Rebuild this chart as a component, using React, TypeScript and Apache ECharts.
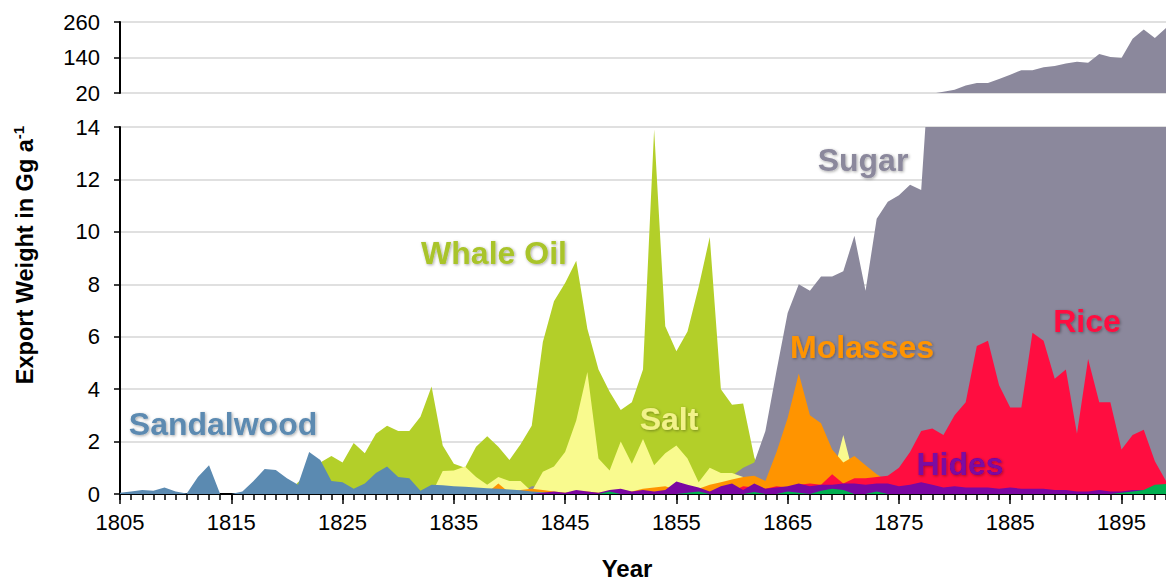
import React, { useEffect, useRef } from "react";
import * as echarts from "echarts";

const FIRST_YEAR = 1805;
const LAST_YEAR = 1899;
const years: string[] = [];
for (let y = FIRST_YEAR; y <= LAST_YEAR; y++) years.push(String(y));

// Top panel axis is broken: it shows 20..260
const TOP_AXIS_BASE = 20;
const topTickLabels = ["20", "140", "260"];

// Values in Gg per year, each list starts at the given year
const sandalwoodStart = 1805;
const sandalwood = [
  0.05, 0.1, 0.15, 0.12, 0.25, 0.1, 0.02, 0.65, 1.1, 0,
  0, 0.1, 0.5, 0.95, 0.92, 0.6, 0.35, 1.6, 1.3, 0.5,
  0.45, 0.2, 0.4, 0.8, 1.05, 0.65, 0.6, 0.12, 0.35, 0.33,
  0.3, 0.28, 0.25, 0.22, 0.2, 0.17, 0.14, 0.1, 0.07, 0.04,
  0.02,
];

const whaleOilStart = 1820;
const whaleOil = [
  0, 0.45, 0.8, 1.2, 1.45, 1.2, 1.95, 1.55, 2.3, 2.6,
  2.4, 2.4, 2.95, 4.1, 1.85, 1.15, 1.0, 1.8, 2.2, 1.8,
  1.3, 1.9, 2.6, 5.8, 7.35, 8.05, 8.9, 6.3, 4.75, 3.9,
  3.2, 3.5, 4.75, 13.9, 6.4, 5.45, 6.2, 7.9, 9.8, 4.0,
  3.4, 3.45, 1.4, 0.3,
];

const saltStart = 1833;
const salt = [
  0, 0.88, 0.9, 1.05, 0.65, 0.35, 0.65,
  0.5, 0.5, 0.1, 0.85, 1.05, 1.6, 2.8, 4.65, 1.35, 0.9,
  2.0, 1.15, 2.1, 1.1, 1.55, 1.85, 1.35, 0.45, 1.0, 0.8,
  0.8, 0.65, 0.5, 0.4, 0.3, 0.3, 0.3, 0.4, 0.5, 0.6,
  2.25, 0.6, 0.5, 0.3, 0.2,
];

const sugarStart = 1840;
const sugar = [
  0, 0.05, 0.3, 0.3, 0.05, 0, 0, 0, 0, 0,
  0, 0, 0, 0, 0, 0, 0, 0, 0.1, 0.3,
  0.7, 1.0, 1.2, 2.4, 4.7, 6.9, 8.0, 7.75, 8.3, 8.3,
  8.5, 9.85, 7.75, 10.5, 11.15, 11.4, 11.8, 11.6, 18, 24,
  31, 45, 54, 54, 67, 82, 97, 97, 107, 111,
  120, 126, 122, 152, 142, 138, 203, 235, 206, 240,
];

const molassesStart = 1837;
const molasses = [
  0, 0.05, 0.4,
  0.05, 0.15, 0.2, 0.15, 0.1, 0.05, 0.1, 0.1, 0.05, 0.1,
  0.15, 0.1, 0.2, 0.25, 0.3, 0.15, 0.15, 0.2, 0.35, 0.45,
  0.55, 0.65, 0.7, 0.5, 1.6, 2.9, 4.6, 3.0, 2.7, 1.7,
  1.2, 1.45, 1.1, 0.75, 0.5, 0.3,
];

const riceStart = 1860;
const rice = [
  0.1, 0.3, 0.25, 0.2, 0.3, 0.25, 0.35, 0.4, 0.35, 0.75,
  0.4, 0.6, 0.6, 0.65, 0.7, 1.0, 1.6, 2.4, 2.5, 2.25,
  3.0, 3.5, 5.65, 5.85, 4.15, 3.3, 3.3, 6.15, 5.85, 4.4,
  4.75, 2.3, 5.15, 3.5, 3.5, 1.7, 2.25, 2.45, 1.25, 0.5,
];

const hidesStart = 1843;
const hides = [
  0.05, 0.1, 0.05, 0.15, 0.1, 0.05, 0.15,
  0.2, 0.1, 0.15, 0.1, 0.15, 0.48, 0.35, 0.25, 0.1, 0.3,
  0.4, 0.15, 0.4, 0.2, 0.25, 0.3, 0.4, 0.3, 0.35, 0.35,
  0.4, 0.4, 0.35, 0.4, 0.4, 0.3, 0.35, 0.45, 0.35, 0.25,
  0.3, 0.25, 0.25, 0.25, 0.2, 0.25, 0.2, 0.2, 0.2, 0.15,
  0.15, 0.1, 0.1, 0.15, 0.1, 0.1, 0.15, 0.15, 0.2, 0.15,
];

const otherStart = 1848;
const other = [
  0, 0.1,
  0, 0, 0, 0, 0, 0, 0.05, 0.1, 0, 0,
  0, 0, 0.08, 0, 0, 0.1, 0.05, 0, 0.12, 0.2,
  0.15, 0, 0, 0.1, 0, 0, 0, 0, 0, 0,
  0, 0, 0, 0, 0, 0, 0, 0, 0, 0,
  0, 0, 0, 0, 0, 0.05, 0.1, 0.15, 0.35, 0.38,
];

function pad(start: number, vals: number[]): number[] {
  const out = years.map(() => 0);
  vals.forEach((v, i) => {
    const k = start - FIRST_YEAR + i;
    if (k >= 0 && k < out.length) out[k] = v;
  });
  return out;
}

const FONT = "'Liberation Sans', Arial, Helvetica, sans-serif";

const C = {
  sandalwood: "#5b8ab1",
  whale: "#b3cf29",
  whaleLabel: "#a9c42a",
  salt: "#f9fa8e",
  saltLabel: "#f2f28a",
  sugar: "#8b889c",
  molasses: "#ff9400",
  rice: "#ff0d40",
  hides: "#7a07a2",
  other: "#00b050",
};

function area(name: string, data: number[], color: string, xi = 0, yi = 0) {
  return {
    name,
    type: "line",
    xAxisIndex: xi,
    yAxisIndex: yi,
    data,
    symbol: "none",
    silent: true,
    lineStyle: { width: 0, opacity: 0 },
    areaStyle: { color, opacity: 1 },
    clip: true,
  };
}

function label(text: string, x: number, y: number, color: string) {
  return {
    type: "text",
    x,
    y,
    z: 100,
    silent: true,
    style: {
      text,
      fill: color,
      font: `bold 32px ${FONT}`,
      align: "center",
      verticalAlign: "middle",
      textShadowColor: "rgba(0,0,0,0.35)",
      textShadowBlur: 3,
      textShadowOffsetX: 1,
      textShadowOffsetY: 1,
    },
  };
}

export default function App() {
  const ref = useRef<HTMLDivElement>(null);

  useEffect(() => {
    if (!ref.current) return;
    const chart = echarts.init(ref.current, undefined, { renderer: "svg" });
    const sugarAll = pad(sugarStart, sugar);
    const axisLineStyle = { color: "#000", width: 2 };
    const tickStyle = { color: "#000", width: 1.5 };
    const option: any = {
      animation: false,
      backgroundColor: "#ffffff",
      textStyle: { fontFamily: FONT },
      grid: [
        { left: 120, right: 0, top: 127, bottom: 89 },
        { left: 120, right: 0, top: 22, height: 71 },
      ],
      xAxis: [
        {
          gridIndex: 0,
          type: "category",
          data: years,
          boundaryGap: false,
          position: "bottom",
          axisLine: { lineStyle: axisLineStyle },
          axisTick: { show: true, interval: 0, length: 6, lineStyle: tickStyle },
          axisLabel: { show: false },
          splitLine: { show: false },
        },
        {
          gridIndex: 0,
          type: "category",
          data: years,
          boundaryGap: false,
          position: "bottom",
          axisLine: { show: false },
          axisTick: {
            show: true,
            interval: (i: number) => i % 10 === 0,
            length: 10,
            lineStyle: tickStyle,
          },
          axisLabel: {
            interval: (i: number) => i % 10 === 0,
            fontSize: 22,
            color: "#000",
            fontFamily: FONT,
            margin: 17,
          },
          splitLine: { show: false },
        },
        {
          gridIndex: 1,
          type: "category",
          data: years,
          boundaryGap: false,
          show: false,
        },
      ],
      yAxis: [
        {
          gridIndex: 0,
          type: "value",
          min: 0,
          max: 14,
          interval: 2,
          axisLine: { show: true, lineStyle: axisLineStyle },
          axisTick: { show: true, length: 6, lineStyle: tickStyle },
          axisLabel: { fontSize: 22, color: "#000", fontFamily: FONT, margin: 20 },
          splitLine: { show: true, lineStyle: { color: "#d6d6d6", width: 1.5 } },
        },
        {
          gridIndex: 1,
          type: "value",
          min: 0,
          max: 240,
          interval: 120,
          axisLine: { show: true, lineStyle: axisLineStyle },
          axisTick: { show: true, length: 6, lineStyle: tickStyle },
          axisLabel: {
            fontSize: 22,
            color: "#000",
            fontFamily: FONT,
            margin: 20,
            formatter: (_v: number, i: number) => topTickLabels[i] ?? "",
          },
          splitLine: { show: true, lineStyle: { color: "#d6d6d6", width: 1.5 } },
        },
      ],
      series: [
        area("Whale Oil", pad(whaleOilStart, whaleOil), C.whale),
        area("Sugar", sugarAll, C.sugar),
        area("Salt", pad(saltStart, salt), C.salt),
        area("Molasses", pad(molassesStart, molasses), C.molasses),
        area("Rice", pad(riceStart, rice), C.rice),
        area("Sandalwood", pad(sandalwoodStart, sandalwood), C.sandalwood),
        area("Hides", pad(hidesStart, hides), C.hides),
        area("Other", pad(otherStart, other), C.other),
        area("Sugar (upper)", sugarAll.map((v) => v - TOP_AXIS_BASE), C.sugar, 2, 1),
      ],
      graphic: [
        label("Sandalwood", 223, 424, C.sandalwood),
        label("Whale Oil", 494, 253, C.whaleLabel),
        label("Salt", 669, 419, C.saltLabel),
        label("Sugar", 863, 160, C.sugar),
        label("Molasses", 862, 347, C.molasses),
        label("Rice", 1087, 321, C.rice),
        label("Hides", 960, 464, C.hides),
        {
          type: "text",
          x: 25,
          y: 255,
          rotation: Math.PI / 2,
          z: 100,
          silent: true,
          style: {
            text: "{b|Export Weight in Gg a}{s|-1}",
            align: "center",
            verticalAlign: "middle",
            fill: "#000",
            rich: {
              b: { fontSize: 23.5, fontWeight: "bold", fontFamily: FONT, fill: "#000", lineHeight: 28 },
              s: { fontSize: 15, fontWeight: "bold", fontFamily: FONT, fill: "#000", lineHeight: 28, verticalAlign: "top" },
            },
          },
        },
        {
          type: "text",
          x: 627,
          y: 568,
          z: 100,
          silent: true,
          style: {
            text: "Year",
            fill: "#000",
            font: `bold 24px ${FONT}`,
            align: "center",
            verticalAlign: "middle",
          },
        },
      ],
    };
    chart.setOption(option);
    return () => chart.dispose();
  }, []);

  return (
    <div
      ref={ref}
      style={{ position: "absolute", left: 0, top: 0, width: 1166, height: 583, background: "#fff" }}
    />
  );
}
